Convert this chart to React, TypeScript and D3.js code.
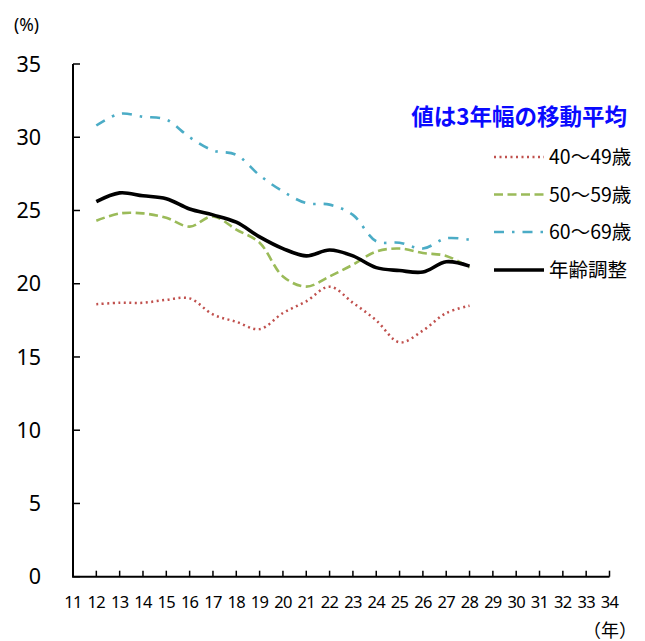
import React from "react";
import * as d3 from "d3";

const years = [12, 13, 14, 15, 16, 17, 18, 19, 20, 21, 22, 23, 24, 25, 26, 27, 28];
const axisYears = d3.range(11, 35);
const yTicks = [0, 5, 10, 15, 20, 25, 30, 35];

const age40 = [18.6, 18.7, 18.7, 18.9, 19.0, 17.9, 17.4, 16.9, 18.0, 18.8, 19.8, 18.7, 17.5, 16.0, 16.8, 18.0, 18.5];
const age50 = [24.3, 24.8, 24.8, 24.5, 23.9, 24.6, 23.7, 22.8, 20.5, 19.8, 20.5, 21.3, 22.2, 22.4, 22.1, 21.9, 21.1];
const age60 = [30.8, 31.6, 31.4, 31.2, 30.0, 29.1, 28.8, 27.4, 26.3, 25.5, 25.4, 24.7, 22.9, 22.8, 22.4, 23.1, 23.0];
const adjusted = [25.6, 26.2, 26.0, 25.8, 25.1, 24.7, 24.2, 23.2, 22.4, 21.9, 22.3, 21.9, 21.1, 20.9, 20.8, 21.5, 21.2];

const seriesNames = ["40～49歳", "50～59歳", "60～69歳", "年齢調整"];
const title = "値は3年幅の移動平均";

const FONT = "'Noto Sans', 'Noto Sans CJK JP', sans-serif";
const JFONT = "'Noto Sans CJK JP', 'Noto Sans', sans-serif";

export default function App() {
  const W = 645, H = 641;
  const x0 = 73, x1 = 609.5;
  const y0 = 576.7, yTop = 64;
  const x = d3.scaleLinear().domain([11, 34]).range([x0, x1]);
  const y = d3.scaleLinear().domain([0, 35]).range([y0, yTop]);

  const line = d3
    .line<number>()
    .x((_, i) => x(years[i]))
    .y((d) => y(d))
    .curve(d3.curveCatmullRom.alpha(0.5));

  const series = [
    { name: seriesNames[0], data: age40, color: "#C0504D", width: 2.5, dash: "2,3.5" },
    { name: seriesNames[1], data: age50, color: "#9BBB59", width: 2.6, dash: "9,4.5" },
    { name: seriesNames[2], data: age60, color: "#4BACC6", width: 2.6, dash: "10,8,2.5,8" },
    { name: seriesNames[3], data: adjusted, color: "#000000", width: 3.6, dash: "none" },
  ];

  const legendY = [157, 194.5, 232, 270];

  return (
    <svg
      width={W}
      height={H}
      style={{ position: "absolute", left: 0, top: 0, background: "#fff" }}
    >
      {/* axes */}
      <line x1={x0} x2={x0} y1={yTop} y2={y0} stroke="#000" strokeWidth={2} />
      <line x1={x0 - 1} x2={x1} y1={y0} y2={y0} stroke="#000" strokeWidth={2} />
      {yTicks.map((t) => (
        <g key={"yt" + t}>
          <line x1={x0} x2={x0 + 7} y1={y(t)} y2={y(t)} stroke="#000" strokeWidth={1.5} />
          <text
            x={41}
            y={y(t)}
            dy="0.36em"
            textAnchor="end"
            fontFamily={FONT}
            fontSize={21.5}
            fill="#000"
          >
            {t}
          </text>
        </g>
      ))}
      {axisYears.map((c) => (
        <g key={"xt" + c}>
          {c > 11 && (
            <line x1={x(c)} x2={x(c)} y1={y0} y2={y0 - 6} stroke="#000" strokeWidth={1.5} />
          )}
          <text
            x={x(c)}
            y={602.5}
            dy="0.36em"
            textAnchor="middle"
            fontFamily={FONT}
            fontSize={16.5}
            letterSpacing={-0.7}
            fill="#000"
          >
            {c}
          </text>
        </g>
      ))}
      <text x={14} y={31} fontFamily={FONT} fontSize={17.5} fill="#000">
        (%)
      </text>
      <text x={583} y={631} dy="0.36em" fontFamily={JFONT} fontSize={18} fill="#000">
        （年）
      </text>

      {/* lines */}
      {series.map((s) => (
        <path
          key={s.name}
          d={line(s.data) || ""}
          fill="none"
          stroke={s.color}
          strokeWidth={s.width}
          strokeDasharray={s.dash}
          strokeLinejoin="round"
        />
      ))}

      {/* legend */}
      <text
        x={627}
        y={117}
        dy="0.36em"
        textAnchor="end"
        fontFamily={JFONT}
        fontWeight="bold"
        fontSize={22.5}
        fill="#0a0aff"
      >
        {title}
      </text>
      {series.map((s, i) => (
        <g key={"lg" + s.name}>
          <line
            x1={494}
            x2={544}
            y1={legendY[i]}
            y2={legendY[i]}
            stroke={s.color}
            strokeWidth={s.width}
            strokeDasharray={s.dash}
          />
          <text
            x={549}
            y={legendY[i]}
            dy="0.36em"
            fontFamily={JFONT}
            fontSize={19.5}
            fill="#000"
          >
            {s.name}
          </text>
        </g>
      ))}
    </svg>
  );
}
